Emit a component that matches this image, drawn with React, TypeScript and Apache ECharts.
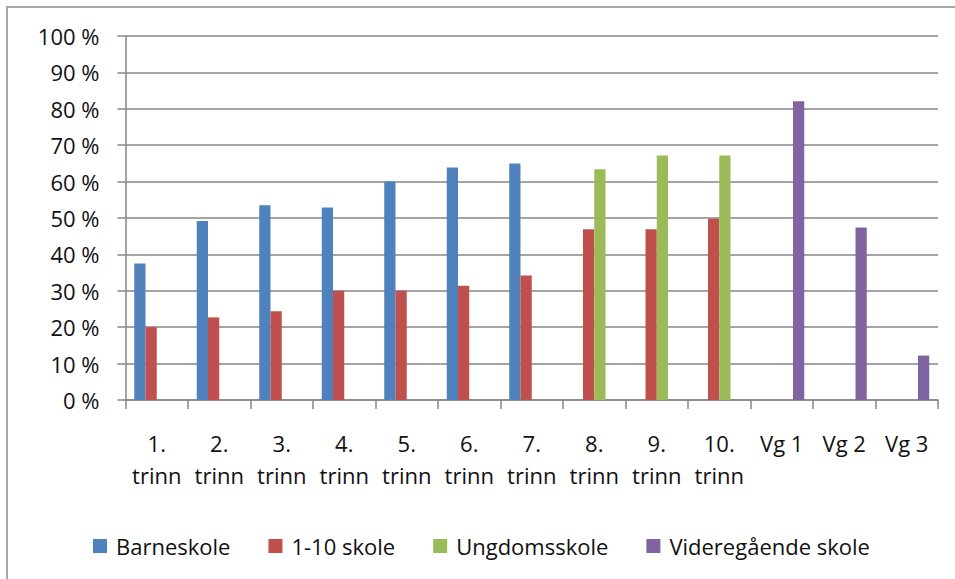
import React, { useEffect, useRef } from "react";
import * as echarts from "echarts";

const categories = [
  "1.\ntrinn", "2.\ntrinn", "3.\ntrinn", "4.\ntrinn", "5.\ntrinn", "6.\ntrinn", "7.\ntrinn",
  "8.\ntrinn", "9.\ntrinn", "10.\ntrinn", "Vg 1", "Vg 2", "Vg 3",
];
const seriesNames = ["Barneskole", "1-10 skole", "Ungdomsskole", "Videregående skole"];
const barneskole = [37.5, 49.2, 53.5, 52.9, 60, 63.9, 65, null, null, null, null, null, null];
const skole110 = [20, 22.7, 24.4, 30, 30, 31.4, 34.2, 46.9, 46.9, 49.8, null, null, null];
const ungdomsskole = [null, null, null, null, null, null, null, 63.4, 67.2, 67.2, null, null, null];
const videregaende = [null, null, null, null, null, null, null, null, null, null, 82.1, 47.4, 12.2];
const colors = ["#4F81BD", "#C0504D", "#9BBB59", "#8064A2"];

export default function App() {
  const ref = useRef<HTMLDivElement>(null);
  useEffect(() => {
    if (!ref.current) return;
    const chart = echarts.init(ref.current, null, { renderer: "svg" });
    const font = "'Open Sans', sans-serif";
    const values = [barneskole, skole110, ungdomsskole, videregaende];
    chart.setOption({
      animation: false,
      backgroundColor: "#ffffff",
      textStyle: { fontFamily: font },
      graphic: [
        {
          type: "rect",
          shape: { x: 7, y: 7, width: 1000, height: 700 },
          style: { fill: "none", stroke: "#a6a6a6", lineWidth: 2 },
          silent: true,
        },
      ],
      legend: {
        left: 88,
        top: 530,
        itemWidth: 14,
        itemHeight: 14,
        itemGap: 38,
        icon: "rect",
        data: seriesNames,
        textStyle: { fontFamily: font, fontSize: 22, color: "#111", padding: [0, 0, 0, 4] },
      },
      grid: { left: 125.5, right: 17, top: 36, bottom: 179, containLabel: false },
      xAxis: {
        type: "category",
        data: categories,
        axisLine: { show: true, lineStyle: { color: "#868686", width: 1.5 } },
        axisTick: { show: true, length: 9, alignWithLabel: false, lineStyle: { color: "#868686", width: 1.5 } },
        axisLabel: {
          interval: 0,
          margin: 27,
          fontFamily: font,
          fontSize: 22,
          lineHeight: 32,
          color: "#111",
          align: "center",
        },
        splitLine: { show: false },
      },
      yAxis: {
        type: "value",
        min: 0,
        max: 100,
        interval: 10,
        axisLine: { show: true, lineStyle: { color: "#868686", width: 1.5 } },
        axisTick: { show: true, length: 8, lineStyle: { color: "#868686", width: 1.5 } },
        axisLabel: {
          formatter: "{value} %",
          margin: 26,
          fontFamily: font,
          fontSize: 22,
          color: "#111",
        },
        splitLine: { show: true, lineStyle: { color: "#868686", width: 1.5 } },
      },
      series: seriesNames.map((name, i) => ({
        name,
        type: "bar",
        data: values[i],
        barGap: "0%",
        barCategoryGap: "28%",
        itemStyle: { color: colors[i] },
      })),
    });
    return () => chart.dispose();
  }, []);
  return (
    <div
      ref={ref}
      style={{ position: "fixed", left: 0, top: 0, width: 955, height: 579 }}
    />
  );
}
